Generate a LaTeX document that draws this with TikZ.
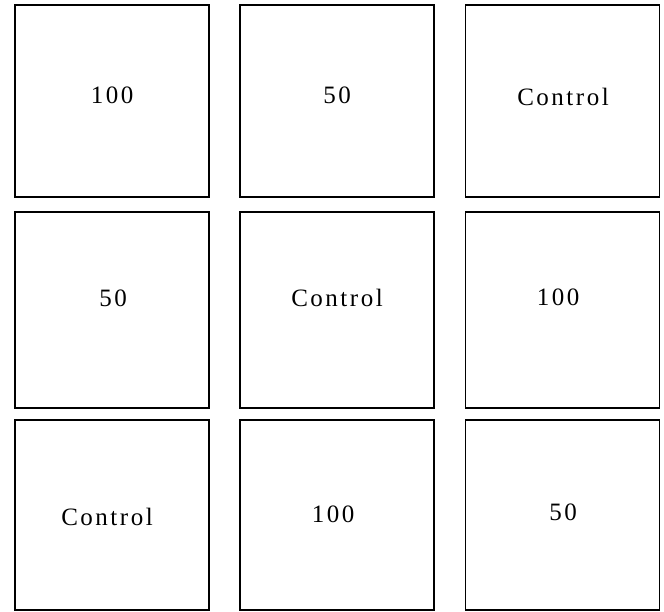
\documentclass[tikz,border=0pt]{standalone}
\usepackage{fontspec}
\setmainfont[LetterSpace=10]{Liberation Serif}
\usepackage{tikz}

\begin{document}
\begin{tikzpicture}[x=1pt, y=-1pt, cell/.style={draw, line width=1.6pt, minimum width=194pt, minimum height=192pt, inner sep=0pt}, tag/.style={font=\fontsize{25}{30}\selectfont, inner sep=0pt}]
\useasboundingbox (0,0) rectangle (664,611);
% row 1
\node[cell] (aa) at (112,101) {};
\node[cell] (ab) at (337,101) {};
\node[cell] (ac) at (562.5,101) {};
\node[tag] (taa) at (112,95) {100};
\node[tag] (tab) at (337,95) {50};
\node[tag] (tac) at (563,97) {Control};
% row 2
\node[cell, minimum height=196pt] (ba) at (112,310) {};
\node[cell, minimum height=196pt] (bb) at (337,310) {};
\node[cell, minimum height=196pt] (bc) at (562.5,310) {};
\node[tag] (tba) at (113,298) {50};
\node[tag] (tbb) at (337,298) {Control};
\node[tag] (tbc) at (558,297) {100};
% row 3
\node[cell, minimum height=190pt] (ca) at (112,515) {};
\node[cell, minimum height=190pt] (cb) at (337,515) {};
\node[cell, minimum height=190pt] (cc) at (562.5,515) {};
\node[tag] (tca) at (107,517) {Control};
\node[tag] (tcb) at (333,514) {100};
\node[tag] (tcc) at (563,512) {50};
\end{tikzpicture}
\end{document}
